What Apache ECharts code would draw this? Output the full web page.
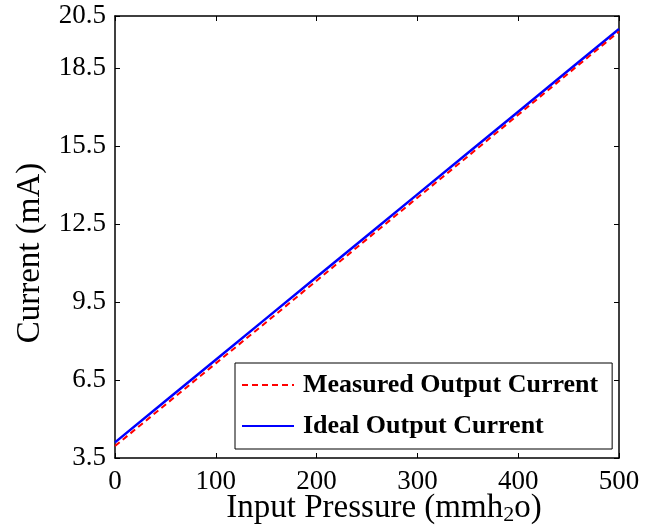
<!DOCTYPE html>
<html>
<head>
<meta charset="utf-8">
<script src="https://cdn.jsdelivr.net/npm/echarts@6/dist/echarts.min.js"></script>
<style>html,body{margin:0;padding:0;background:#fff}#c{width:646px;height:530px}</style>
</head>
<body>
<div id="c"></div>
<script>
var pressure = [0, 50, 100, 150, 200, 250, 300, 350, 400, 450, 500];
var measured = [3.96, 5.55, 7.14, 8.72, 10.32, 11.92, 13.51, 15.10, 16.70, 18.30, 19.90];
var ideal = [4.10, 5.69, 7.28, 8.87, 10.46, 12.05, 13.64, 15.23, 16.82, 18.41, 20.00];
var yTicks = [3.5, 6.5, 9.5, 12.5, 15.5, 18.5, 20.5];
var xTicks = [0, 100, 200, 300, 400, 500];
var seriesNames = ['Measured Output Current', 'Ideal Output Current'];

var font = '"Liberation Serif", "Times New Roman", serif';
var chart = echarts.init(document.getElementById('c'), null, {renderer: 'canvas'});
function pairs(ys) { return pressure.map(function (p, i) { return [p, ys[i]]; }); }
var axisLine = {show: true, onZero: false, lineStyle: {color: '#000', width: 1.5}};
chart.setOption({
  animation: false,
  backgroundColor: '#fff',
  grid: {left: 115, top: 16, right: 27, bottom: 72, containLabel: false, outerBoundsMode: 'none'},
  xAxis: [{
    type: 'value', min: 0, max: 500, position: 'bottom',
    axisLine: axisLine,
    axisTick: {show: true, inside: true, length: 5, customValues: xTicks, lineStyle: {color: '#000', width: 1}},
    axisLabel: {customValues: xTicks, color: '#000', fontFamily: font, fontSize: 27, margin: 10},
    splitLine: {show: false},
    name: '{a|Input Pressure (mmh}{s|2}{a|o)}',
    nameLocation: 'middle', nameGap: 32, nameMoveOverlap: false,
    nameTextStyle: {padding: [0, 0, 0, 34], rich: {
      a: {fontFamily: font, fontSize: 33, color: '#000', lineHeight: 36},
      s: {fontFamily: font, fontSize: 22, color: '#000', verticalAlign: 'bottom', lineHeight: 22, padding: [12, 0, 0, 0]}
    }}
  }, {
    type: 'value', min: 0, max: 500, position: 'top',
    axisLine: axisLine,
    axisTick: {show: true, inside: true, length: 5, customValues: xTicks, lineStyle: {color: '#000', width: 1}},
    axisLabel: {show: false}, splitLine: {show: false}
  }],
  yAxis: [{
    type: 'value', min: 3.5, max: 20.5, position: 'left',
    axisLine: axisLine,
    axisTick: {show: true, inside: true, length: 5, customValues: yTicks, lineStyle: {color: '#000', width: 1}},
    axisLabel: {customValues: yTicks, color: '#000', fontFamily: font, fontSize: 27, margin: 9,
      formatter: function (v) { return v.toFixed(1); }},
    splitLine: {show: false},
    name: 'Current (mA)', nameLocation: 'middle', nameGap: 68, nameRotate: 90, nameMoveOverlap: false,
    nameTextStyle: {fontFamily: font, fontSize: 33, color: '#000', padding: [0, 32, 0, 0]}
  }, {
    type: 'value', min: 3.5, max: 20.5, position: 'right',
    axisLine: axisLine,
    axisTick: {show: true, inside: true, length: 5, customValues: yTicks, lineStyle: {color: '#000', width: 1}},
    axisLabel: {show: false}, splitLine: {show: false}
  }],
  legend: {
    orient: 'vertical', left: 235, top: 363,
    backgroundColor: '#fff', borderColor: '#000', borderWidth: 1,
    padding: [9, 14, 10, 6], itemWidth: 52, itemHeight: 20, itemGap: 15,
    itemStyle: {opacity: 0},
    textStyle: {fontFamily: font, fontSize: 26, fontWeight: 'bold', color: '#000', padding: [0, 0, 0, 4]},
    data: seriesNames
  },
  series: [{
    name: seriesNames[0], type: 'line', data: pairs(measured), showSymbol: false, symbol: 'none',
    lineStyle: {color: '#ff0000', width: 2, type: [6, 4]}, itemStyle: {color: '#ff0000'}, z: 3
  }, {
    name: seriesNames[1], type: 'line', data: pairs(ideal), showSymbol: false, symbol: 'none',
    lineStyle: {color: '#0000ff', width: 2.5}, itemStyle: {color: '#0000ff'}, z: 2
  }]
});
</script>
</body>
</html>
